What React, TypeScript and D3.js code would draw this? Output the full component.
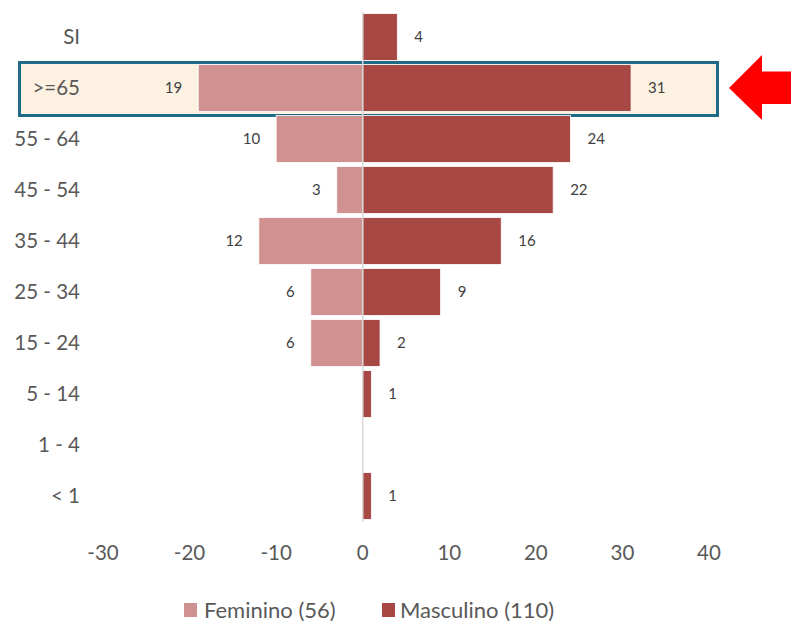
import React from "react";
import * as d3 from "d3";

const categories = ["SI", ">=65", "55 - 64", "45 - 54", "35 - 44", "25 - 34", "15 - 24", "5 - 14", "1 - 4", "< 1"];
const feminino = [0, 19, 10, 3, 12, 6, 6, 0, 0, 0];
const masculino = [4, 31, 24, 22, 16, 9, 2, 1, 0, 1];
const xTicks = [-30, -20, -10, 0, 10, 20, 30, 40];
const legendLabels = ["Feminino (56)", "Masculino (110)"];
const highlighted = ">=65";

const W = 791;
const H = 624;
const FONT = "Lato, 'Open Sans', sans-serif";
const FEM = "#D09290";
const MAS = "#A84845";
const TXT = "#595959";

export default function App() {
  const x = d3.scaleLinear().domain([-30, 40]).range([103, 709]);
  const y = d3.scaleBand<string>().domain(categories).range([11.5, 521.5]).paddingInner(0.08).paddingOuter(0.04);
  const step = y.step();
  const hb = y(highlighted)! - (step - y.bandwidth()) / 2;
  const x0 = x(0);

  return (
    <svg width={W} height={H} style={{ position: "absolute", left: 0, top: 0, background: "#fff" }} fontFamily={FONT}>
      {/* highlight box */}
      <rect x={19.5} y={hb} width={698} height={step + 2} fill="#FDF1E1" stroke="#1F6A87" strokeWidth={3} />
      {categories.map((c, i) => {
        const by = y(c)!;
        const bh = y.bandwidth();
        const cy = by + bh / 2;
        const f = feminino[i];
        const m = masculino[i];
        return (
          <g key={c}>
            {f > 0 && (
              <rect x={x(-f)} y={by} width={x0 - x(-f)} height={bh} fill={FEM} stroke="#fff" strokeWidth={0.8} />
            )}
            {m > 0 && (
              <rect x={x0} y={by} width={x(m) - x0} height={bh} fill={MAS} stroke="#fff" strokeWidth={0.8} />
            )}
            {f > 0 && (
              <text x={x(-f) - 16} y={cy} dy="0.35em" textAnchor="end" fontSize={15} fill="#404040">{f}</text>
            )}
            {m > 0 && (
              <text x={x(m) + 17} y={cy} dy="0.35em" textAnchor="start" fontSize={15} fill="#404040">{m}</text>
            )}
            <text x={80} y={cy} dy="0.35em" textAnchor="end" fontSize={20.5} fill={TXT}>{c}</text>
          </g>
        );
      })}
      {/* zero axis line */}
      <line x1={x0} x2={x0} y1={12} y2={522} stroke="#D9D9D9" strokeWidth={1.5} />
      {/* x tick labels */}
      {xTicks.map((t) => (
        <text key={t} x={x(t)} y={553} dy="0.35em" textAnchor="middle" fontSize={20.5} fill={TXT}>{t}</text>
      ))}
      {/* legend */}
      <rect x={184} y={603} width={13} height={14} fill={FEM} />
      <text x={204} y={610} dy="0.35em" fontSize={22} fill={TXT}>{legendLabels[0]}</text>
      <rect x={382} y={603} width={13} height={14} fill={MAS} />
      <text x={400} y={610} dy="0.35em" fontSize={22} fill={TXT}>{legendLabels[1]}</text>
      {/* red arrow */}
      <path d="M729,88 L762,55 L762,71.5 L791,71.5 L791,104 L762,104 L762,120 Z" fill="#FF0000" />
    </svg>
  );
}
